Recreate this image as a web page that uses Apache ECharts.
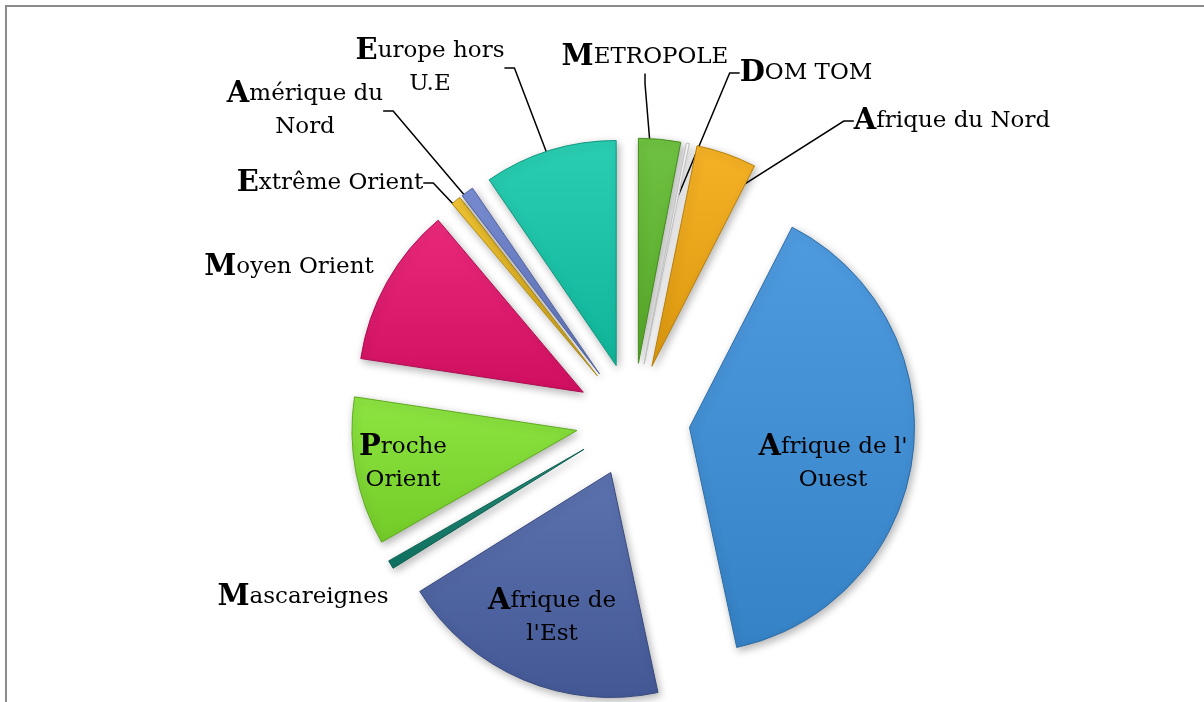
<!DOCTYPE html>
<html>
<head>
<meta charset="utf-8">
<script src="https://cdn.jsdelivr.net/npm/echarts@6/dist/echarts.min.js"></script>
<style>
    html, body { margin: 0; padding: 0; background: #fff; }
    #chart { width: 1204px; height: 702px; }
</style>
</head>
<body>
<div id="chart"></div>
<script>
    // regions, clockwise from 12 o'clock
    const regions = ['METROPOLE', 'DOM TOM', 'Afrique du Nord', "Afrique de l' Ouest", "Afrique de l'Est",
        'Mascareignes', 'Proche Orient', 'Moyen Orient', 'Extrême Orient', 'Amérique du Nord', 'Europe hors U.E'];
    // share of each region (%)
    const shares = [3.0, 0.2, 4.3, 38.9, 19.4, 0.6, 10.6, 11.4, 0.7, 0.9, 9.5];
    // label text as printed on the chart
    const labelTexts = ['METROPOLE', 'DOM TOM', 'Afrique du Nord', "Afrique de l'\nOuest", "Afrique de\nl'Est",
        'Mascareignes', 'Proche\nOrient', 'Moyen Orient', 'Extrême Orient', 'Amérique du\nNord', 'Europe hors\nU.E'];

    const colors = ['#5fbb2c', '#ffffff', '#f4a90f', '#3b90dc', '#4a62a6', '#10806c',
        '#80e22c', '#e8116c', '#f1be1c', '#6a80cf', '#12c9aa'];
    // where the labels sit (px), like the original layout
    const labelPos = [[645, 57], [806, 73], [952, 121], [833, 464], [552, 618], [303, 597],
        [403, 464], [289, 267], [330, 183], [305, 111], [430, 68]];
    const insideIdx = [3, 4, 6];
    const noLine = [5, 7];

    let chart = echarts.init(document.getElementById('chart'));

    // lighten (k>0) or darken (k<0) a hex colour
    function shade(hex, k) {
        let n = parseInt(hex.slice(1), 16);
        let c = [n >> 16, (n >> 8) & 255, n & 255].map(function (v) {
            v = k > 0 ? v + (255 - v) * k : v * (1 + k);
            return Math.round(v);
        });
        return 'rgb(' + c.join(',') + ')';
    }
    function fill(hex) { // soft vertical gradient, a bit like the bevel of the original
        return {
            type: 'linear', x: 0, y: 0, x2: 0, y2: 1,
            colorStops: [
                { offset: 0, color: shade(hex, 0.1) },
                { offset: 1, color: shade(hex, -0.1) }
            ]
        };
    }

    function fmt(p) {
        let t = labelTexts[p.dataIndex];
        return '{b|' + t[0] + '}' + t.slice(1);
    }
    let labelBase = {
        color: '#000',
        fontFamily: 'DejaVu Serif',
        fontSize: 23,
        lineHeight: 33,
        align: 'center',
        formatter: fmt,
        rich: {
            b: { fontFamily: 'DejaVu Serif', fontWeight: 'bold', fontSize: 29, color: '#000' }
        }
    };
    function place(p) {
        let pos = labelPos[p.dataIndex];
        return { x: pos[0], y: pos[1], align: 'center', verticalAlign: 'middle' };
    }
    // same pie, invisible, only used to carry the labels
    let ghost = {
        type: 'pie',
        center: [633, 420],
        radius: 225,
        startAngle: 90,
        silent: true,
        avoidLabelOverlap: false,
        itemStyle: { color: 'rgba(0,0,0,0)' },
        emphasis: { disabled: true }
    };

    chart.setOption({
        animation: false,
        graphic: [{ // cadre gris en haut et à gauche
            type: 'rect',
            shape: { x: 6, y: 6, width: 1400, height: 900 },
            style: { fill: 'none', stroke: '#8c8c8c', lineWidth: 2 }
        }],
        series: [
            { // exploded slices
                type: 'pie',
                z: 2,
                center: [633, 420],
                radius: 225,
                startAngle: 90,
                selectedMode: 'multiple',
                selectedOffset: 57,
                label: { show: false },
                labelLine: { show: false },
                itemStyle: {
                    borderWidth: 1,
                    shadowBlur: 8,
                    shadowOffsetX: 2,
                    shadowOffsetY: 3,
                    shadowColor: 'rgba(0,0,0,0.3)'
                },
                data: regions.map(function (name, i) {
                    let st = { color: fill(colors[i]), borderColor: shade(colors[i], -0.25) };
                    return { name: name, value: shares[i], selected: true, itemStyle: st, select: { itemStyle: st } };
                })
            },
            Object.assign({}, ghost, { // outside labels with leader lines, under the slices
                z: 1,
                label: Object.assign({ show: true, position: 'outside' }, labelBase),
                labelLine: { show: true, length: 20, length2: 10, lineStyle: { color: '#000', width: 1.5 } },
                labelLayout: place,
                data: regions.map(function (name, i) {
                    let outside = insideIdx.indexOf(i) < 0;
                    return {
                        name: name, value: shares[i],
                        label: { show: outside },
                        labelLine: { show: outside && noLine.indexOf(i) < 0 }
                    };
                })
            }),
            Object.assign({}, ghost, { // labels inside the big slices
                z: 3,
                label: Object.assign({ show: true, position: 'inside' }, labelBase),
                labelLine: { show: false },
                labelLayout: place,
                data: regions.map(function (name, i) {
                    return { name: name, value: shares[i], label: { show: insideIdx.indexOf(i) >= 0 } };
                })
            })
        ]
    });
</script>
</body>
</html>
